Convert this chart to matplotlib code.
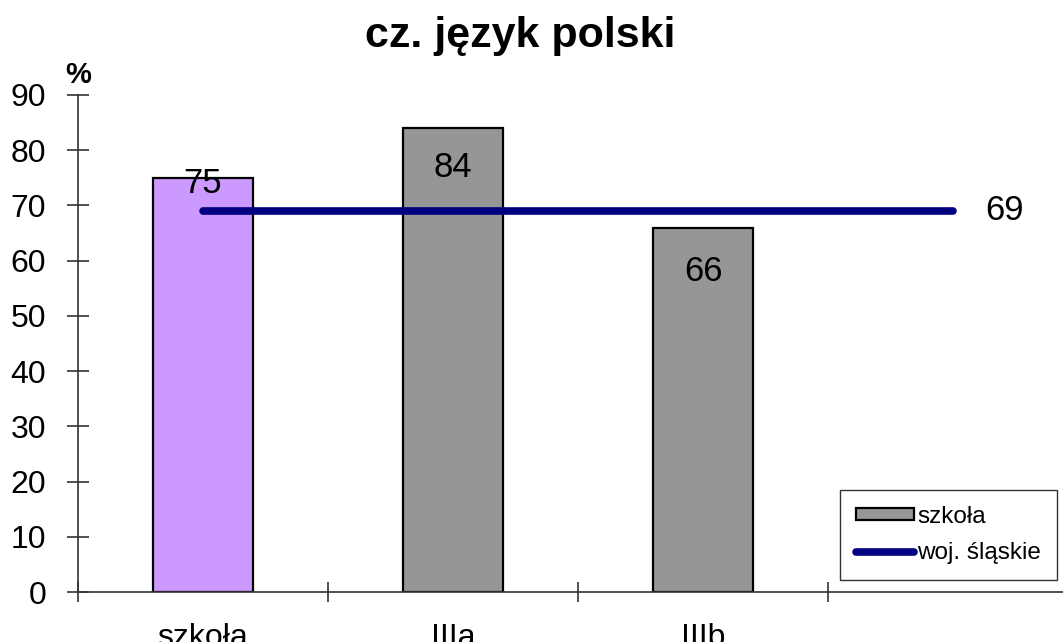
import matplotlib.pyplot as plt
from matplotlib.patches import Patch
from matplotlib.lines import Line2D

plt.rcParams['font.family'] = ['Liberation Sans', 'DejaVu Sans']

# data
categories = ["szkoła", "IIIa", "IIIb", ""]
bar_values = [75, 84, 66]
bar_colors = ["#CC99FF", "#969696", "#969696"]
region_value = 69
label_offsets = [-4, -28, -32]  # label shift in points (as in the original chart)

W, H = 1063, 642
fig = plt.figure(figsize=(W / 100, H / 100), dpi=100)
ax = fig.add_axes([78 / W, 50 / H, 1000 / W, 497 / H])

x = list(range(len(bar_values)))
ax.bar(x, bar_values, width=0.4, color=bar_colors, edgecolor="black", linewidth=1.6, zorder=2)
for xi, v, off in zip(x, bar_values, label_offsets):
    ax.annotate(str(v), (xi, v), xytext=(0, off), textcoords="offset points",
                ha="center", va="center", fontsize=25, zorder=4)

# regional average line across the first 4 categories
ax.plot([0, len(categories) - 1], [region_value] * 2, color="#000080", linewidth=5.5,
        solid_capstyle="round", zorder=3)
ax.annotate(str(region_value), (len(categories) - 1, region_value), xytext=(23, 0),
            textcoords="offset points", ha="left", va="center", fontsize=25)

ax.set_xlim(-0.5, len(categories) - 0.5)
ax.set_ylim(0, 90)
ax.set_yticks(range(0, 91, 10))
ax.set_xticks(range(len(categories)))
ax.set_xticklabels(categories)
ax.set_xticks([i - 0.5 for i in range(len(categories) + 1)], minor=True)
ax.tick_params(axis="x", which="major", length=0, labelsize=23, pad=22)
ax.tick_params(axis="x", which="minor", direction="inout", length=14, width=1.2, color="#333333")
ax.tick_params(axis="y", direction="inout", length=16, width=1.2, labelsize=23, pad=15, color="#333333")

for s in ["top", "right"]:
    ax.spines[s].set_visible(False)
ax.spines["left"].set_color("#333333")
ax.spines["bottom"].set_color("#333333")
ax.spines["left"].set_linewidth(1.2)
ax.spines["bottom"].set_linewidth(1.2)

ax.text(0, 1.012, "%", transform=ax.transAxes, ha="center", va="bottom",
        fontsize=21, fontweight="bold")
fig.text(520 / W, 1 - 36 / H, "cz. język polski", ha="center", va="center",
         fontsize=31, fontweight="bold")

handles = [Patch(facecolor="#969696", edgecolor="black", linewidth=1.6),
           Line2D([0], [0], color="#000080", linewidth=5.5, solid_capstyle="round")]
leg = fig.legend(handles, ["szkoła", "woj. śląskie"], loc="upper left",
                 bbox_to_anchor=(840 / W, 1 - 490 / H), fontsize=17.5, frameon=True,
                 fancybox=False, edgecolor="black", borderpad=0.65, labelspacing=0.6,
                 handlelength=2.4, handleheight=0.42, handletextpad=0.12, borderaxespad=0)
leg.get_frame().set_linewidth(1.0)

fig.savefig("out.png", dpi=100)
